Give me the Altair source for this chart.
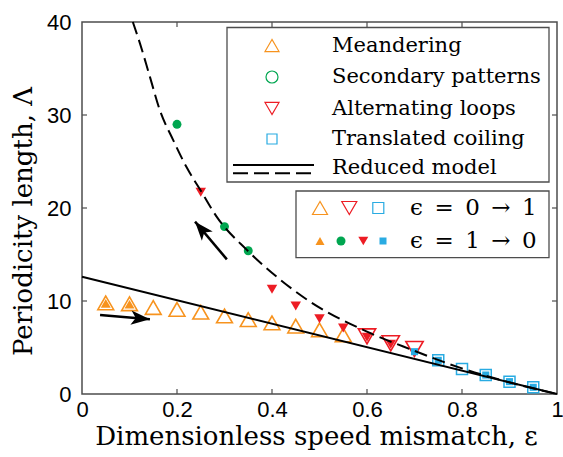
import altair as alt
import pandas as pd

# ---------------- data ----------------
eps_meander_open = [0.05, 0.10, 0.15, 0.20, 0.25, 0.30, 0.35, 0.40, 0.45, 0.50, 0.55]
lam_meander_open = [9.8, 9.7, 9.3, 9.1, 8.8, 8.4, 8.0, 7.65, 7.3, 6.9, 6.35]
eps_meander_fill = [0.05, 0.10]
lam_meander_fill = [9.75, 9.65]

eps_secondary_fill = [0.20, 0.30, 0.35]
lam_secondary_fill = [29.0, 18.0, 15.4]

eps_loops_open = [0.60, 0.65, 0.70]
lam_loops_open = [6.2, 5.45, 4.84]
eps_loops_fill = [0.25, 0.40, 0.45, 0.50, 0.55, 0.60, 0.65]
lam_loops_fill = [21.7, 11.26, 9.46, 8.1, 7.1, 6.1, 5.35]

eps_coil_open = [0.75, 0.80, 0.85, 0.90, 0.95]
lam_coil_open = [3.62, 2.69, 2.04, 1.33, 0.72]
eps_coil_fill = [0.70, 0.75, 0.85, 0.90, 0.95]
lam_coil_fill = [4.55, 3.62, 2.04, 1.33, 0.72]

eps_model_solid = [0.0, 1.0]
lam_model_solid = [12.6, 0.0]
eps_model_dashed = [0.107, 0.122, 0.143, 0.164, 0.192, 0.22, 0.252, 0.283,
                    0.347, 0.41, 0.475, 0.6, 0.697, 0.789, 0.894, 1.0]
lam_model_dashed = [40.0, 37.7, 34.1, 30.5, 27.3, 24.4, 21.7, 19.1,
                    15.5, 12.6, 10.1, 6.7, 4.7, 2.94, 1.33, 0.0]

eps_arrow_up = [0.038, 0.143]      # increasing epsilon (tail -> tip)
lam_arrow_up = [8.49, 8.03]
eps_arrow_down = [0.305, 0.238]    # decreasing epsilon (tail -> tip)
lam_arrow_down = [14.48, 18.53]

x_ticks = [0.0, 0.2, 0.4, 0.6, 0.8, 1.0]
y_ticks = [0, 10, 20, 30, 40]
x_minor = [0.2, 0.4, 0.6, 0.8]
y_minor = [10, 20, 30]

legend_labels = ["Meandering", "Secondary patterns", "Alternating loops",
                 "Translated coiling", "Reduced model"]
direction_labels = ["\u03f5\u2002=\u20020\u2002\u2192\u20021",
                    "\u03f5\u2002=\u20021\u2002\u2192\u20020"]

# ---------------- styling ----------------
ORANGE = "#F7931E"
GREEN = "#00A650"
RED = "#ED1C24"
BLUE = "#29ABE2"
FRAME = "#4d4d4d"
SERIF = "DejaVu Serif"
SANS = "Liberation Sans"

W, H = 475, 372


def df(e, l):
    return pd.DataFrame({"eps": e, "lam": l})


X = alt.X("eps:Q", scale=alt.Scale(domain=[0, 1], nice=False, zero=False),
          axis=alt.Axis(values=x_ticks, format="~g", title="Dimensionless speed mismatch, \u03b5",
                        ticks=False, tickSize=0, domain=False, grid=False, labelFlush=False,
                        labelOverlap=False, labelFont=SANS, labelFontSize=22, labelColor="black",
                        labelPadding=5, titleFont=SERIF, titleFontSize=26, titleFontWeight="normal",
                        titleColor="black", titlePadding=3, titleX=234))
Y = alt.Y("lam:Q", scale=alt.Scale(domain=[0, 40], nice=False, zero=False),
          axis=alt.Axis(values=y_ticks, format="d", title="Periodicity length, \u039b",
                        ticks=False, tickSize=0, domain=False, grid=False, labelFlush=False,
                        labelOverlap=False, labelFont=SANS, labelFontSize=22, labelColor="black",
                        labelPadding=11, titleFont=SERIF, titleFontSize=26, titleFontWeight="normal",
                        titleColor="black", titleX=-59, titleY=199, titleBaseline="middle",
                        titleAngle=270))


def pts(e, l, shape, size, color, filled, sw=1.6):
    return alt.Chart(df(e, l)).mark_point(
        shape=shape, size=size, filled=filled, color=color, strokeWidth=sw, opacity=1
    ).encode(x=X, y=Y)


layers = []

# inward ticks
tx = pd.DataFrame({"eps": x_minor})
ty = pd.DataFrame({"lam": y_minor})
layers.append(alt.Chart(tx).mark_rule(color=FRAME, strokeWidth=1.2).encode(
    x=X, y=alt.value(H), y2=alt.value(H - 5)))
layers.append(alt.Chart(tx).mark_rule(color=FRAME, strokeWidth=1.2).encode(
    x=X, y=alt.value(0), y2=alt.value(5)))
layers.append(alt.Chart(ty).mark_rule(color=FRAME, strokeWidth=1.2).encode(
    y=Y, x=alt.value(0), x2=alt.value(5)))
layers.append(alt.Chart(ty).mark_rule(color=FRAME, strokeWidth=1.2).encode(
    y=Y, x=alt.value(W - 5), x2=alt.value(W)))

# data markers
layers.append(pts(eps_meander_open, lam_meander_open, "triangle-up", 250, ORANGE, False))
layers.append(pts(eps_loops_open, lam_loops_open, "triangle-down", 300, RED, False))
layers.append(pts(eps_coil_open, lam_coil_open, "square", 121, BLUE, False, 1.5))
layers.append(pts(eps_meander_fill, lam_meander_fill, "triangle-up", 100, ORANGE, True))
layers.append(pts(eps_secondary_fill, lam_secondary_fill, "circle", 80, GREEN, True))
layers.append(pts(eps_loops_fill, lam_loops_fill, "triangle-down", 110, RED, True))
layers.append(pts(eps_coil_fill, lam_coil_fill, "square", 50, BLUE, True))

# reduced model
layers.append(alt.Chart(df(eps_model_solid, lam_model_solid)).mark_line(
    color="black", strokeWidth=2).encode(x=X, y=Y))
layers.append(alt.Chart(df(eps_model_dashed, lam_model_dashed)).mark_line(
    color="black", strokeWidth=2, strokeDash=[13, 6], interpolate="monotone").encode(x=X, y=Y))

# arrows
HEAD = "M0,0 L0.75,2 L0,1.5 L-0.75,2 Z"
for e, l, ang in [(eps_arrow_up, lam_arrow_up, 94.9), (eps_arrow_down, lam_arrow_down, 319.8)]:
    layers.append(alt.Chart(df(e, l)).mark_line(color="black", strokeWidth=2.5).encode(x=X, y=Y))
    layers.append(alt.Chart(df(e[1:], l[1:])).mark_point(
        shape=HEAD, size=360, filled=True, color="black", opacity=1, angle=ang
    ).encode(x=X, y=Y))

# ---------------- legends (drawn in pixel space) ----------------
one = pd.DataFrame({"k": [0]})


def box(x1, x2, y1, y2):
    return alt.Chart(one).mark_rect(fill="white", stroke=FRAME, strokeWidth=1.3).encode(
        x=alt.value(x1), x2=alt.value(x2), y=alt.value(y1), y2=alt.value(y2))


def sym(x, y, shape, size, color, filled, sw=1.2):
    return alt.Chart(one).mark_point(shape=shape, size=size, filled=filled, color=color,
                                     strokeWidth=sw, opacity=1).encode(
        x=alt.value(x), y=alt.value(y))


def txt(x, y, s, size):
    return alt.Chart(one).mark_text(text=s, align="left", baseline="middle", font=SERIF,
                                    fontSize=size, color="black").encode(
        x=alt.value(x), y=alt.value(y))


def seg(x1, x2, y, dash=None):
    kw = dict(color="black", strokeWidth=2)
    if dash:
        kw["strokeDash"] = dash
    return alt.Chart(one).mark_rule(**kw).encode(
        x=alt.value(x1), x2=alt.value(x2), y=alt.value(y))


rows = [23.5, 55, 86.5, 117, 146]
layers.append(box(145, 467, 5.5, 160))
layers.append(sym(190, rows[0], "triangle-up", 196, ORANGE, False))
layers.append(sym(190, rows[1], "circle", 144, GREEN, False))
layers.append(sym(190, rows[2], "triangle-down", 196, RED, False))
layers.append(sym(190, rows[3], "square", 100, BLUE, False))
layers.append(seg(151, 232, 143))
layers.append(seg(151, 232, 151.3, [15, 6]))
for r, lab in zip(rows, legend_labels):
    layers.append(txt(250, r, lab, 21))

r1, r2 = 186, 219
layers.append(box(214, 467, 169, 235.7))
layers.append(sym(238, r1, "triangle-up", 225, ORANGE, False))
layers.append(sym(267.3, r1, "triangle-down", 225, RED, False))
layers.append(sym(296.3, r1, "square", 121, BLUE, False))
layers.append(sym(238, r2, "triangle-up", 81, ORANGE, True))
layers.append(sym(259, r2, "circle", 81, GREEN, True))
layers.append(sym(281.3, r2, "triangle-down", 100, RED, True))
layers.append(sym(301, r2, "square", 49, BLUE, True))
layers.append(txt(328, r1, direction_labels[0], 23))
layers.append(txt(328, r2, direction_labels[1], 23))

chart = alt.layer(*layers).properties(
    width=W, height=H, autosize="none",
    padding={"left": 82, "top": 22, "right": 6, "bottom": 63},
    background="white",
).configure_view(stroke=FRAME, strokeWidth=1.5)

chart.save("out.html", embed_options={"renderer": "svg", "actions": False})
